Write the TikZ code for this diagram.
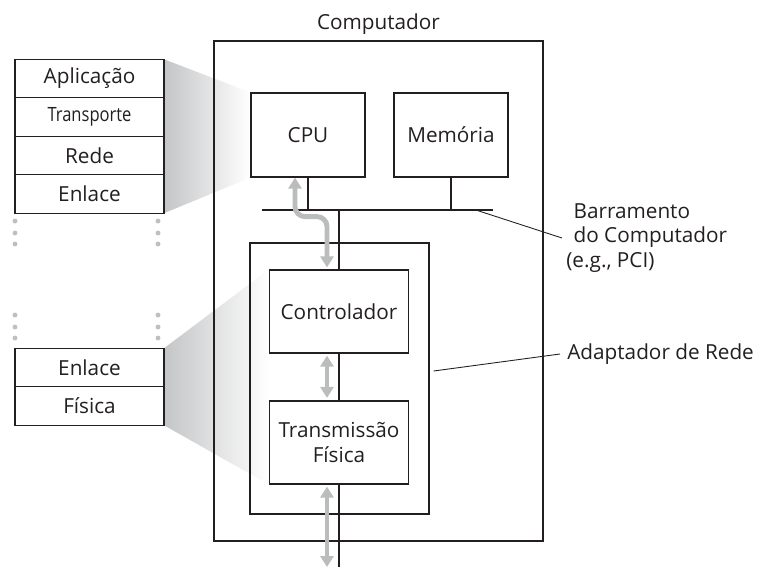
\documentclass[tikz,border=0pt]{standalone}
\usepackage{fontspec}
\setmainfont{Open Sans}
\usetikzlibrary{arrows.meta,positioning,calc,backgrounds}
\definecolor{InkGray}{HTML}{231F20}
\definecolor{ArrowGray}{HTML}{BBBCBE}
\definecolor{ShadeGray}{HTML}{C4C5C7}
\definecolor{DotGray}{HTML}{BEBFC1}
\tikzset{
  layer/.style={draw=InkGray, fill=white, line width=0.7pt, minimum width=2.98cm, minimum height=0.77cm, inner sep=0pt, outer sep=0pt},
  unit/.style={draw=InkGray, line width=0.7pt, align=center, inner sep=0pt},
  wire/.style={draw=InkGray, line width=0.7pt},
  flow/.style={draw=ArrowGray, line width=2.8pt, rounded corners=0.2cm, {Triangle[width=0.26cm,length=0.22cm]}-{Triangle[width=0.26cm,length=0.22cm]}},
  leader/.style={draw=InkGray, line width=0.5pt},
  note/.style={align=left, inner sep=0pt}
}

\begin{document}
\begin{tikzpicture}[x=0.02cm, y=-0.02cm, every node/.style={font=\fontsize{11.8}{14}\selectfont, text=InkGray}]
\useasboundingbox (0,0) rectangle (764,569);
% computer and its parts
\node[unit, minimum width=6.58cm, minimum height=10cm] (host) at (378.5,291) {};
\node[above=0.12cm of host, inner sep=0pt] (hostname) {Computador};
\node[unit, minimum width=2.28cm, minimum height=1.68cm] (cpu) at (308,135) {CPU};
\node[unit, minimum width=2.28cm, minimum height=1.68cm] (mem) at (451,135) {Memória};
\node[unit, minimum width=3.58cm, minimum height=5.42cm] (nic) at (339.5,378.5) {};
\node[unit, minimum width=2.78cm, minimum height=1.66cm] (ctrl) at (339,311.5) {Controlador};
\node[unit, minimum width=2.78cm, minimum height=1.66cm] (phys) at (339,442.5) {Transmissão\\Física};

% protocol stacks
\node[layer] (app) at (89.5,78.5) {Aplicação};
\node[layer, below=0cm of app, font=\fontsize{11.2}{13}\selectfont\addfontfeature{FakeStretch=0.84}] (transp) {Transporte};
\node[layer, below=0cm of transp] (netw) {Rede};
\node[layer, below=0cm of netw] (link) {Enlace};
\node[layer] (lowlink) at (89.5,367.5) {Enlace};
\node[layer, below=0cm of lowlink] (phy) {Física};
\foreach \x in {15,158}
  \foreach \y in {221,233,244,315,327,338}
    \fill[DotGray] (\x,\y) circle[radius=1.4pt];

% bus
\coordinate (busL) at (262,210);
\coordinate (busR) at (493,210);
\coordinate (wan) at (339,567);
\draw[wire] (busL) -- (busR);
\draw[wire] (cpu.south) -- (cpu.south |- busL);
\draw[wire] (mem.south) -- (mem.south |- busL);
\draw[wire] (ctrl.north) -- (ctrl.north |- busL);
\draw[wire] (ctrl.south) -- (phys.north);
\draw[wire] (phys.south) -- (wan);

% data path
\draw[flow] ([xshift=-0.26cm]cpu.south) -- ++(0,39) -| ([xshift=-0.24cm,yshift=0.04cm]ctrl.north);
\draw[flow] ([xshift=-0.24cm,yshift=-0.04cm]ctrl.south) -- ([xshift=-0.24cm,yshift=0.05cm]phys.north);
\draw[flow] ([xshift=-0.24cm,yshift=-0.04cm]phys.south) -- ([xshift=-0.24cm]wan);

% callouts
\coordinate (bustap) at ($(busL)!0.926!(busR)$);
\node[note, anchor=west] (busnote) at (566,238) {\hspace*{0.35em}Barramento\\\hspace*{0.35em}do Computador\\(e.g., PCI)};
\node[note, anchor=west] (nicnote) at (567,354) {Adaptador de Rede};
\draw[leader] (bustap) -- ([xshift=-0.08cm]busnote.west);
\draw[leader] ([xshift=0.08cm,yshift=0.15cm]nic.east) -- ([xshift=-0.14cm]nicnote.west);

% zoom wedges
\begin{scope}[on background layer]
\shade[left color=ShadeGray, right color=white] (app.north east) -- (cpu.north west) -- (cpu.south west) -- (link.south east) -- cycle;
\shade[left color=ShadeGray, right color=white] (lowlink.north east) -- (ctrl.north west) -- (phys.south west) -- (phy.south east) -- cycle;
\end{scope}
\end{tikzpicture}
\end{document}
